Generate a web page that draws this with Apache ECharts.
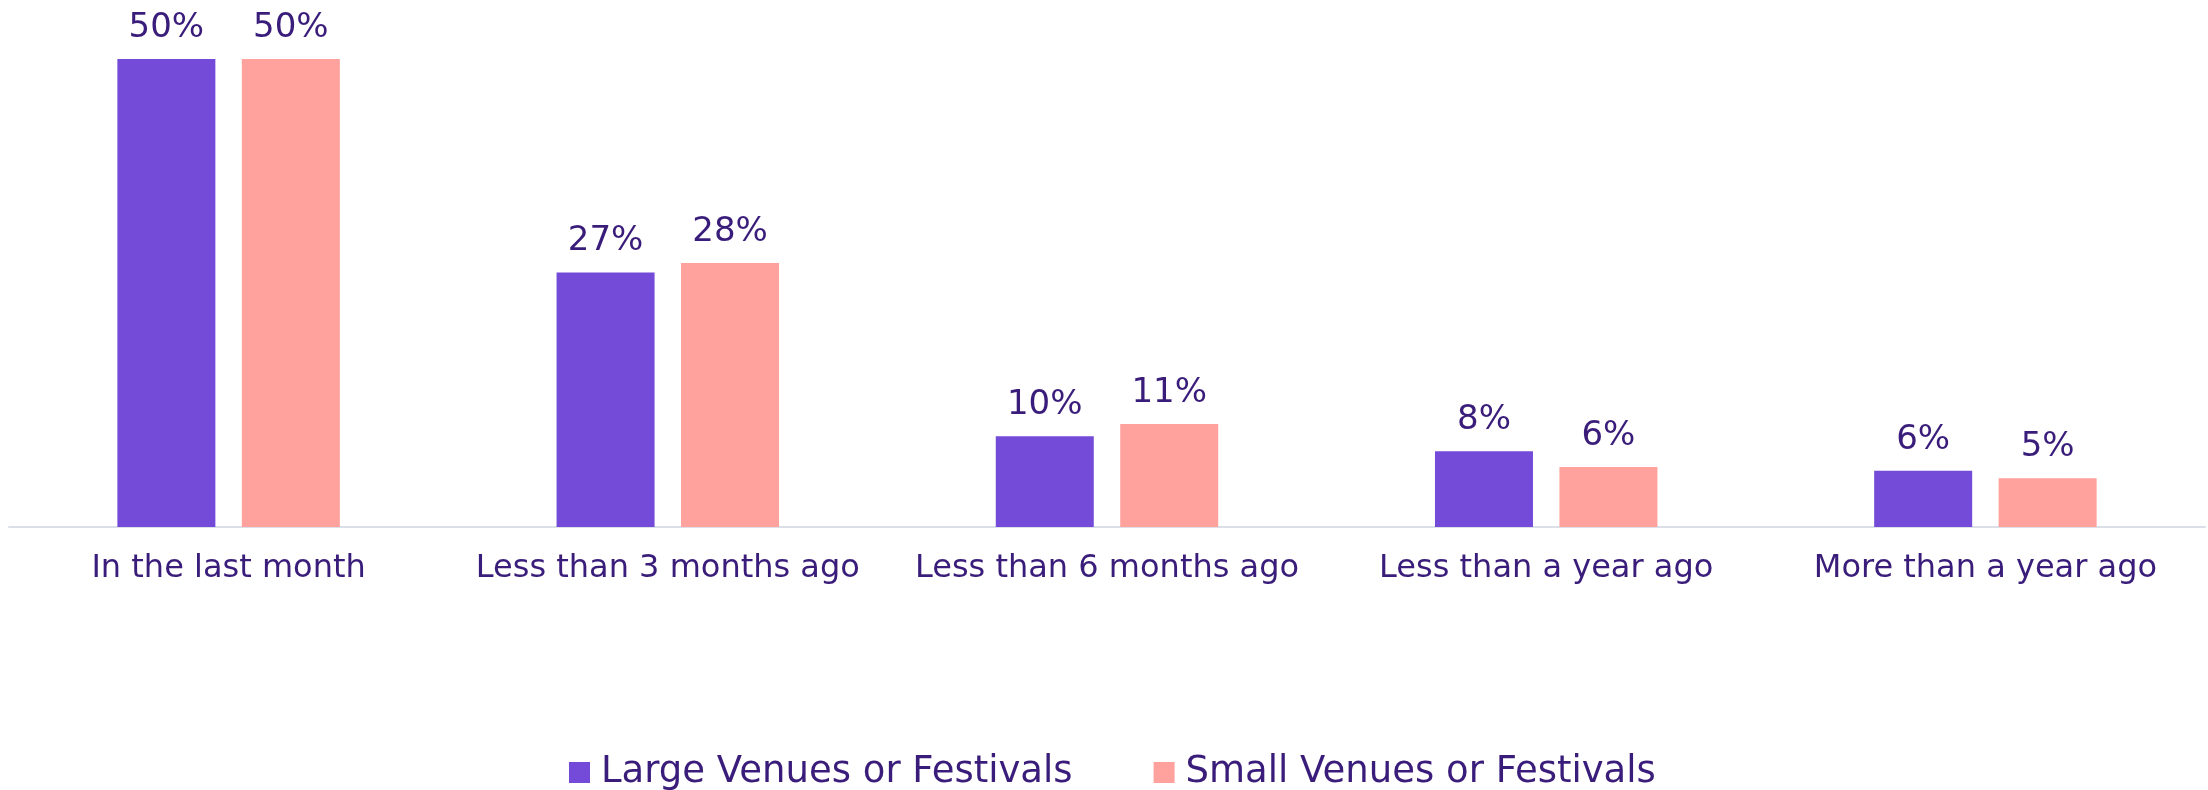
<!DOCTYPE html>
<html>
<head>
<meta charset="utf-8">
<title>Last attended</title>
<script src="https://cdn.jsdelivr.net/npm/echarts@6/dist/echarts.min.js"></script>
<style>
    html, body { margin: 0; padding: 0; background: #fff; }
    #chart { width: 2208px; height: 790px; }
</style>
</head>
<body>
<div id="chart"></div>
<script>
var categories = ['In the last month', 'Less than 3 months ago', 'Less than 6 months ago', 'Less than a year ago', 'More than a year ago'];
var seriesNames = ['Large Venues or Festivals', 'Small Venues or Festivals'];
var largeValues = [50, 27.2, 9.7, 8.1, 6.0];
var smallValues = [50.1, 28.2, 11.0, 6.4, 5.2];

var textColor = '#3a1d7a';
var font = 'DejaVu Sans';

var myChart = echarts.init(document.getElementById('chart'));

function barSeries(name, data, color) {
    return {
        name: name,
        type: 'bar',
        data: data,
        barWidth: 98,
        barGap: '27%',
        itemStyle: { color: color },
        label: {
            show: true,
            position: 'top',
            distance: 14,
            color: textColor,
            fontFamily: font,
            fontSize: 34,
            formatter: function (p) { return Math.round(p.value) + '%'; }
        }
    };
}

myChart.setOption({
    animation: false,
    textStyle: { fontFamily: font },
    grid: { left: 9, right: 3, top: 59, bottom: 263, containLabel: false },
    legend: {
        top: 749,
        left: 564,
        itemWidth: 21,
        itemHeight: 21,
        itemGap: 81,
        icon: 'rect',
        textStyle: { color: textColor, fontFamily: font, fontSize: 37, padding: [0, 0, 0, 6] },
        data: seriesNames
    },
    xAxis: {
        type: 'category',
        data: categories,
        axisLine: { lineStyle: { color: '#dadfe8', width: 2 } },
        axisTick: { show: false },
        axisLabel: { color: textColor, fontFamily: font, fontSize: 32, margin: 26, interval: 0 }
    },
    yAxis: {
        type: 'value',
        min: 0,
        max: 50,
        show: false,
        splitLine: { show: false }
    },
    series: [
        barSeries(seriesNames[0], largeValues, '#734bd8'),
        barSeries(seriesNames[1], smallValues, '#ffa19c')
    ]
});
</script>
</body>
</html>
